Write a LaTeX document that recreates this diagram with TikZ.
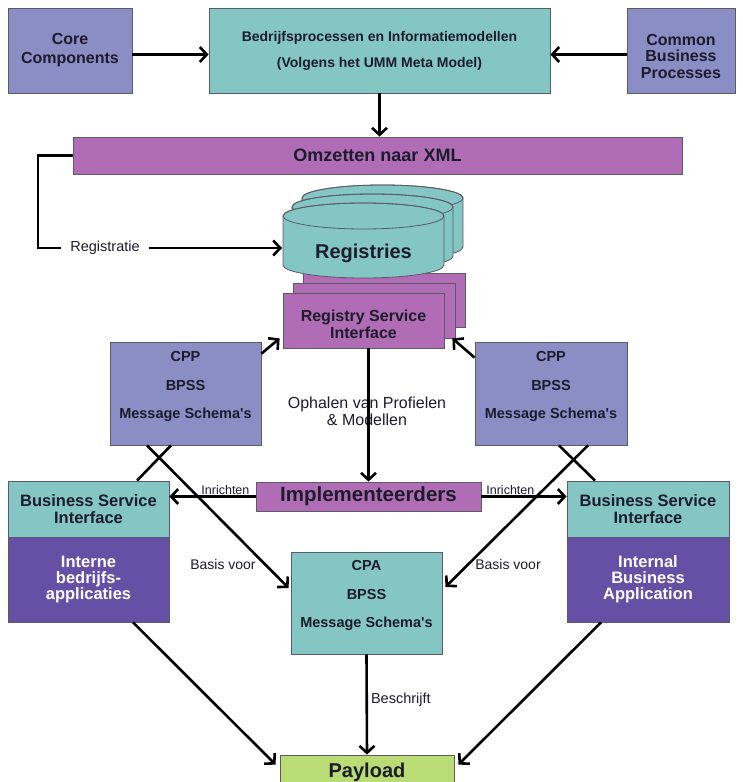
\documentclass[tikz,border=0pt]{standalone}
\usepackage{fontspec}
\setmainfont{Liberation Sans}[Ligatures=TeXOff]
\usetikzlibrary{arrows.meta}
\definecolor{slatec}{HTML}{8B8DC5}
\definecolor{tealc}{HTML}{84C6C3}
\definecolor{purplec}{HTML}{B06CB4}
\definecolor{darkpc}{HTML}{6550A6}
\definecolor{greenc}{HTML}{B9DC74}
\definecolor{edge}{HTML}{5A5A6A}
\definecolor{ink}{HTML}{1C1C2C}
\newcommand\drawcyl[2]{%
  \filldraw[fill=tealc, draw=edge, line width=0.8pt] (#1,#2+13) -- (#1,#2+62)
    arc[start angle=180, end angle=0, x radius=80.5, y radius=13] -- (#1+161,#2+13)
    arc[start angle=0, end angle=-180, x radius=80.5, y radius=13] -- cycle;
  \draw[edge, line width=0.8pt] (#1+80.5,#2+13) ellipse [x radius=80.5, y radius=13];}
\begin{document}
\begin{tikzpicture}[x=1pt,y=-1pt,
  box/.style={draw=edge, line width=0.8pt, inner sep=0pt, text=ink, align=center},
  bt/.style={text=ink, align=center, inner sep=0pt},
  lbl/.style={text=ink, align=center, inner sep=1pt},
  conn/.style={line width=2.6pt, black},
  arr/.style={conn, -{Straight Barb[length=7pt,width=15pt]}}]
\useasboundingbox[fill=white] (0,0) rectangle (743,782);

% top row
\node[box, fill=slatec, minimum width=124, minimum height=85, font=\bfseries\fontsize{16}{19}\selectfont] (core) at (70,50.5) {Core\\Components};
\node[box, fill=tealc, minimum width=341, minimum height=85, font=\bfseries\fontsize{14}{26}\selectfont] (bim) at (379.5,50.5) {Bedrijfsprocessen en Informatiemodellen\\(Volgens het UMM Meta Model)};
\node[box, fill=slatec, minimum width=108, minimum height=85] (cbp) at (681,50.5) {};
\node[bt, font=\bfseries\fontsize{16}{16.5}\selectfont] (cbpt) at (681,56) {Common\\Business\\Processes};
\draw[arr] ([yshift=-4pt]core.east) -- ([yshift=-4pt]bim.west);
\draw[arr] ([yshift=-4pt]cbp.west) -- ([yshift=-4pt]bim.east);

\node[box, fill=purplec, minimum width=609, minimum height=37, font=\bfseries\fontsize{18}{20}\selectfont] (omz) at (377.5,155.5) {Omzetten naar XML};
\draw[arr] (bim.south) -- (bim.south |- omz.north);

% registries
\node[box, fill=purplec, minimum width=162, minimum height=54] (rsi3) at (384,300) {};
\node[box, fill=purplec, minimum width=162, minimum height=55] (rsi2) at (374,310.5) {};
\drawcyl{302}{185}
\drawcyl{292}{194}
\drawcyl{283}{203}
\node[bt, font=\bfseries\fontsize{20}{22}\selectfont] (regs) at (363.5,253) {Registries};
\node[box, fill=purplec, minimum width=161, minimum height=55] (rsi) at (363.5,320.5) {};
\node[bt, font=\bfseries\fontsize{16}{17}\selectfont] (rsit) at (363.5,324) {Registry Service\\Interface};

\node[lbl, inner xsep=9pt, font=\fontsize{14.5}{16}\selectfont] (regl) at (105,248) {Registratie};
\coordinate (regcorner) at (38,248);
\coordinate (cylW) at (282,248);
\draw[conn] (omz.west) -| (regcorner) -- (regl.west);
\draw[arr] (regl.east) -- (cylW);

% CPP boxes
\node[box, fill=slatec, minimum width=151, minimum height=103] (cppL) at (185.5,393.5) {};
\node[bt, font=\bfseries\fontsize{14.5}{28.5}\selectfont] (cppLt) at (185.5,386.5) {CPP\\BPSS\\Message Schema's};
\node[box, fill=slatec, minimum width=152, minimum height=103] (cppR) at (551,393.5) {};
\node[bt, font=\bfseries\fontsize{14.5}{28.5}\selectfont] (cppRt) at (551,386.5) {CPP\\BPSS\\Message Schema's};
\draw[arr] ([yshift=-12pt]cppL.north east) -- ([xshift=-3pt,yshift=10pt]rsi.south west);
\draw[arr] ([yshift=-16pt]cppR.north west) -- ([xshift=8pt,yshift=10pt]rsi.south east);

% implementeerders
\node[box, fill=purplec, minimum width=225, minimum height=29, font=\bfseries\fontsize{20.5}{22}\selectfont] (impl) at (368.5,496.5) {Implementeerders};
\node[lbl, font=\fontsize{16}{17}\selectfont] (oph) at (367,411) {Ophalen van Profielen\\\& Modellen};
\draw[arr] (rsi.south -| impl.north) -- (impl.north);

% business service interfaces
\node[box, fill=tealc, minimum width=161, minimum height=56, font=\bfseries\fontsize{16.5}{17}\selectfont] (bsiL) at (88.5,509) {Business Service\\Interface};
\node[box, fill=darkpc, text=white, minimum width=161, minimum height=85, font=\bfseries\fontsize{16.5}{16}\selectfont] (appL) at (88.5,579.5) {Interne\\bedrijfs-\\applicaties};
\node[box, fill=tealc, minimum width=162, minimum height=56, font=\bfseries\fontsize{16.5}{17}\selectfont] (bsiR) at (648,509) {Business Service\\Interface};
\node[box, fill=darkpc, text=white, minimum width=162, minimum height=85, font=\bfseries\fontsize{16.5}{16}\selectfont] (appR) at (648,579.5) {Internal\\Business\\Application};

\draw[arr] (impl.west) -- node[pos=0.35, anchor=south, lbl, font=\fontsize{12.5}{14}\selectfont] (inrL) {Inrichten} (impl.west -| bsiL.east);
\draw[arr] (impl.east) -- node[pos=0.34, anchor=south, lbl, font=\fontsize{12.5}{14}\selectfont] (inrR) {Inrichten} (impl.east -| bsiR.west);

% CPA
\node[box, fill=tealc, minimum width=151, minimum height=102] (cpa) at (366.5,603) {};
\node[bt, font=\bfseries\fontsize{14.5}{28.5}\selectfont] (cpat) at (366.5,595.5) {CPA\\BPSS\\Message Schema's};

% crossing lines
\draw[conn] ([xshift=48.5pt]bsiL.north) -- ([xshift=-14.5pt]cppL.south);
\draw[arr] ([xshift=-38.5pt]cppL.south) -- ([xshift=-2pt,yshift=15pt]cpa.west);
\draw[conn] ([xshift=-53pt]bsiR.north) -- ([xshift=8pt]cppR.south);
\draw[arr] ([xshift=37pt]cppR.south) -- ([xshift=3pt,yshift=16pt]cpa.east);
\node[lbl, font=\fontsize{14}{16}\selectfont] (basL) at (223,564) {Basis voor};
\node[lbl, font=\fontsize{14}{16}\selectfont] (basR) at (508,564) {Basis voor};

% payload
\node[box, fill=greenc, minimum width=174, minimum height=34, font=\bfseries\fontsize{20}{22}\selectfont] (pay) at (367,772) {Payload};
\draw[arr] (cpa.south) -- node[pos=0.45, anchor=west, lbl, xshift=2pt, font=\fontsize{14.5}{16}\selectfont] (besch) {Beschrijft} (pay.north);
\draw[arr] ([xshift=44.5pt]appL.south) -- ([xshift=-4pt,yshift=-10pt]pay.north west);
\draw[arr] ([xshift=-47pt]appR.south) -- ([xshift=4pt,yshift=-10pt]pay.north east);
\end{tikzpicture}
\end{document}
